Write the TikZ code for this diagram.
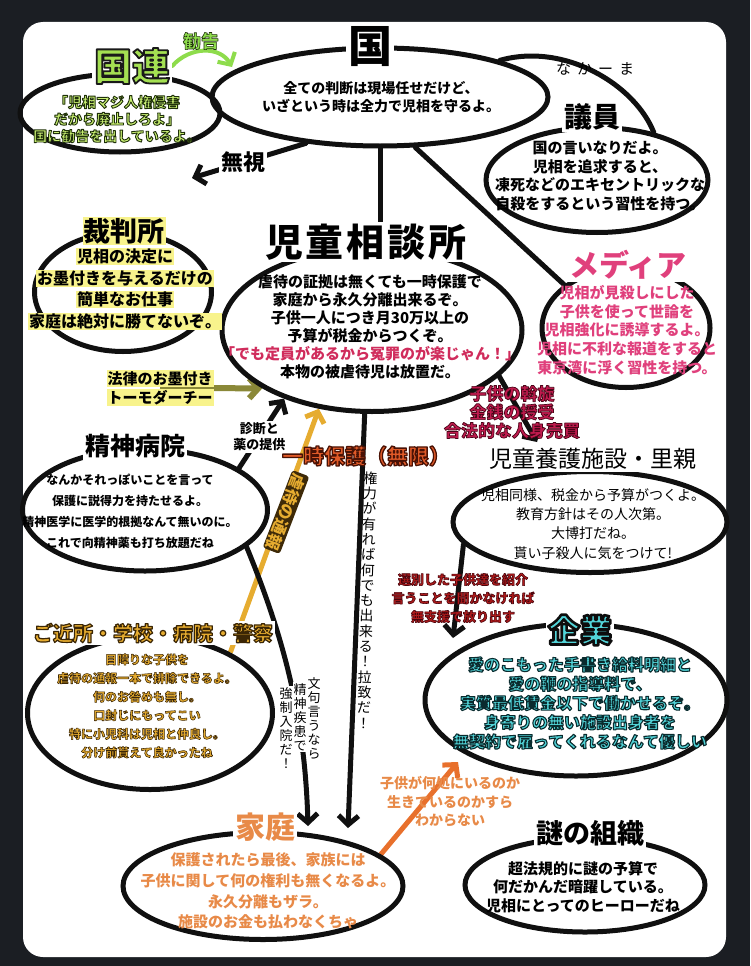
\documentclass[tikz,border=0pt]{standalone}
\usepackage{fontspec}
\setmainfont{Noto Sans CJK JP}
\usetikzlibrary{shapes.geometric,arrows.meta,calc}
\pgfdeclarelayer{back}
\pgfdeclarelayer{bg}
\pgfsetlayers{back,bg,main}
\definecolor{bgdark}{HTML}{1B1E23}
\definecolor{ink}{HTML}{101010}
\definecolor{kgreen}{HTML}{A4E052}
\definecolor{kgreenlt}{HTML}{C8EE72}
\definecolor{mpink}{HTML}{E0407C}
\definecolor{goldc}{HTML}{E6AC30}
\definecolor{golddk}{HTML}{3E2A08}
\definecolor{ored}{HTML}{E05A28}
\definecolor{crim}{HTML}{C01A4E}
\definecolor{dred}{HTML}{B01A1A}
\definecolor{tealc}{HTML}{52D4D8}
\definecolor{orng}{HTML}{E88A48}
\definecolor{orline}{HTML}{E8702C}
\definecolor{olivec}{HTML}{8A8838}
\definecolor{yglow}{HTML}{F8F38C}
\definecolor{redq}{HTML}{D02C5C}
\definecolor{gline}{HTML}{8EDC4C}
\newcommand\fs[2]{\fontsize{#1}{#2}\selectfont}
% outlined text: #1 stroke width, #2 stroke colour (r g b), #3 text
\newcommand\olt[3]{{\special{pdf:literal direct 1 j #1 w #2 RG 2 Tr}#3\special{pdf:literal direct 0 Tr}}}
\newcommand\hl[1]{{\setlength\fboxsep{1pt}\colorbox{yglow}{#1}}}
\tikzset{
  oval/.style={ellipse, draw=ink, line width=5pt, inner sep=0pt},
  ttl/.style={inner sep=2pt, fill=white},
  txt/.style={align=center, inner sep=0pt},
  conn/.style={draw=ink, line width=5pt, line cap=round},
  barb/.style={-{Straight Barb[length=9pt,width=20pt]}},
  lbl/.style={fill=white, inner sep=2pt, align=center},
}
\begin{document}
\begin{tikzpicture}[x=1pt,y=-1pt]
\useasboundingbox (0,0) rectangle (750,966);
\begin{pgfonlayer}{back}
\fill[bgdark] (0,0) rectangle (750,966);
\fill[white, rounded corners=20pt] (23,22) rectangle (726,957);
\end{pgfonlayer}

% ellipses
\node[oval, minimum width=336pt, minimum height=98pt] (kuniE) at (380,97) {};
\node[oval, minimum width=200pt, minimum height=78pt] (kokurenE) at (120,113) {};
\node[oval, minimum width=222pt, minimum height=105pt] (giinE) at (597,180) {};
\node[oval, minimum width=177pt, minimum height=119pt] (saibanE) at (123,292) {};
\node[oval, minimum width=300pt, minimum height=163pt] (jisouE) at (372,330) {};
\node[oval, minimum width=168pt, minimum height=119pt] (mediaE) at (626,328) {};
\node[oval, minimum width=245pt, minimum height=122pt] (seishinE) at (145,510) {};
\node[oval, minimum width=274pt, minimum height=101pt] (youkaE) at (590,522) {};
\node[oval, minimum width=245pt, minimum height=153pt] (kinjoE) at (150,713) {};
\node[oval, minimum width=302pt, minimum height=152pt] (kigyoE) at (576,700) {};
\node[oval, minimum width=280pt, minimum height=107pt] (kateiE) at (263,886) {};
\node[oval, minimum width=240pt, minimum height=94pt] (nazoE) at (585,885) {};

% 国
\node[ttl, font=\fs{44}{48}\bfseries] (kuniT) at (370,47) {国};
\node[txt, font=\fs{14}{18}\bfseries] (kuniX) at (381,97) {全ての判断は現場任せだけど、\\いざという時は全力で児相を守るよ。};
% 国連
\node[ttl, text=kgreen, font=\fs{38}{42}\bfseries] (kokurenT) at (132,66) {\olt{1.8}{0.1 0.1 0.1}{国連}};
\node[txt, text=kgreenlt, font=\fs{14}{17}\bfseries] (kokurenX) at (117,119) {\olt{0.9}{0.12 0.19 0.04}{「児相マジ人権侵害}\\\olt{0.9}{0.12 0.19 0.04}{だから廃止しろよ」}\\\olt{0.9}{0.12 0.19 0.04}{国に勧告を出しているよ。}};
\node[txt, text=gline, font=\fs{18}{20}\bfseries] (kankoku) at (201,41) {\olt{0.6}{0.12 0.19 0.04}{勧告}};
% 議員
\node[ttl, font=\fs{28}{30}\bfseries] (giinT) at (592,117) {議員};
\node[txt, font=\fs{15}{18.5}\bfseries] (giinX) at (600,176) {国の言いなりだよ。\\児相を追求すると、\\凍死などのエキセントリックな\\自殺をするという習性を持つ。};
\node[font=\fs{15}{16}] (nakama) at (595,69) {な\hspace{6pt}か\hspace{6pt}ー\hspace{6pt}ま};
% 裁判所
\node[ttl, fill=yglow, inner sep=1pt, font=\fs{27}{30}\bfseries] (saibanT) at (124,231) {裁判所};
\node[txt, font=\fs{16}{21.5}\bfseries] (saibanX) at (125,289) {\hl{児相の決定に}\\\hl{お墨付きを与えるだけの}\\\hl{簡単なお仕事}\\\hl{家庭は絶対に勝てないぞ。}};
\node[txt, font=\fs{15}{19}\bfseries] (houritsu) at (160,388) {\hl{法律のお墨付き}\\\hl{トーモダーチー}};
% 児童相談所
\node[ttl, font=\fs{38}{42}\bfseries] (jisouT) at (366,242) {児\hspace{3pt}童\hspace{3pt}相\hspace{3pt}談\hspace{3pt}所};
\node[txt, font=\fs{15}{18}\bfseries] (jisouX) at (370,327) {虐待の証拠は無くても一時保護で\\家庭から永久分離出来るぞ。\\子供一人につき月30万以上の\\予算が税金からつくぞ。\\\textcolor{redq}{「でも定員があるから冤罪のが楽じゃん！」}\\本物の被虐待児は放置だ。};
% メディア
\node[ttl, text=mpink, font=\fs{30}{32}\bfseries] (mediaT) at (628,265) {メディア};
\node[txt, text=mpink, font=\fs{15}{18.7}\bfseries] (mediaX) at (627,330) {児相が見殺しにした\\子供を使って世論を\\児相強化に誘導するよ。\\児相に不利な報道をすると\\東京湾に浮く習性を持つ。};
% 精神病院
\node[ttl, font=\fs{25}{28}\bfseries] (seishinT) at (135,446) {精神病院};
\node[txt, font=\fs{12}{21}\bfseries] (seishinX) at (130,511) {なんかそれっぽいことを言って\\保護に説得力を持たせるよ。\\精神医学に医学的根拠なんて無いのに。\\これで向精神薬も打ち放題だね};
% labels in the middle
\node[rotate=-111, fill=golddk, rounded corners=3pt, inner sep=1.5pt, text=goldc, font=\fs{16}{18}\bfseries] (gyakutai) at (286,512) {虐待の通報};
\node[text=ored, font=\fs{21}{24}\bfseries] (ichiji) at (366,456) {\olt{1.3}{0.29 0.07 0.02}{一時保護（無限）}};
\node[txt, font=\fs{14}{15.3}, rotate=-1.6] (kenryoku) at (367,600) {権\\力\\が\\有\\れ\\ば\\何\\で\\も\\出\\来\\る\\！\\拉\\致\\だ\\！};
\node[txt, anchor=north, fill=white, inner sep=1pt, font=\fs{13}{14}] (monku1) at (314,676) {文\\句\\言\\う\\な\\ら};
\node[txt, anchor=north, fill=white, inner sep=1pt, font=\fs{13}{14}] (monku2) at (300,682) {精\\神\\疾\\患\\で};
\node[txt, anchor=north, fill=white, inner sep=1pt, font=\fs{13}{14}] (monku3) at (286,686) {強\\制\\入\\院\\だ\\！};
% ご近所
\node[ttl, text=goldc, font=\fs{20}{22}\bfseries] (kinjoT) at (153,633) {\olt{1.2}{0.23 0.15 0.02}{ご近所・学校・病院・警察}};
\node[txt, text=goldc, font=\fs{12}{18.6}\bfseries] (kinjoX) at (147,706) {\olt{0.55}{0.23 0.15 0.02}{目障りな子供を}\\\olt{0.55}{0.23 0.15 0.02}{虐待の通報一本で排除できるよ。}\\\olt{0.55}{0.23 0.15 0.02}{何のお咎めも無し。}\\\olt{0.55}{0.23 0.15 0.02}{口封じにもってこい}\\\olt{0.55}{0.23 0.15 0.02}{特に小児科は児相と仲良し。}\\\olt{0.55}{0.23 0.15 0.02}{分け前貰えて良かったね}};
% 児童養護施設
\node[ttl, font=\fs{23}{26}] (youkaT) at (593,459) {児童養護施設・里親};
\node[txt, font=\fs{14}{19.3}] (youkaX) at (593,524) {児相同様、税金から予算がつくよ。\\教育方針はその人次第。\\大博打だね。\\貰い子殺人に気をつけて!};
\node[txt, text=crim, font=\fs{17}{18.5}\bfseries] (shien) at (512,412) {\olt{0.7}{0.29 0.02 0.09}{子供の斡旋}\\\olt{0.7}{0.29 0.02 0.09}{金銭の授受}\\\olt{0.7}{0.29 0.02 0.09}{合法的な人身売買}};
\node[txt, text=dred, font=\fs{13}{18.5}\bfseries] (senbetsu) at (463,598) {\olt{0.6}{0.29 0.02 0.05}{選別した子供達を紹介}\\\olt{0.6}{0.29 0.02 0.05}{言うことを聞かなければ}\\\olt{0.6}{0.29 0.02 0.05}{無支援で放り出す}};
% 企業
\node[ttl, text=tealc, font=\fs{32}{34}\bfseries] (kigyoT) at (580,630) {\olt{2.6}{0.05 0.05 0.05}{企業}};
\node[txt, text=tealc, font=\fs{16}{19.25}\bfseries] (kigyoX) at (580,703) {\olt{1.1}{0.04 0.17 0.18}{愛のこもった手書き給料明細と}\\\olt{1.1}{0.04 0.17 0.18}{愛の鞭の指導料で、}\\\olt{1.1}{0.04 0.17 0.18}{実質最低賃金以下で働かせるぞ。}\\\olt{1.1}{0.04 0.17 0.18}{身寄りの無い施設出身者を}\\\olt{1.1}{0.04 0.17 0.18}{無契約で雇ってくれるなんて優しい}};
% 家庭
\node[txt, text=orng, font=\fs{14}{18.5}\bfseries] (dokoL) at (450,802) {子供が何処にいるのか\\生きているのかすら\\わからない};
\node[ttl, text=orng, font=\fs{30}{32}\bfseries] (kateiT) at (265,827) {家庭};
\node[txt, text=orng, font=\fs{15}{20.6}\bfseries] (kateiX) at (268,891) {保護されたら最後、家族には\\子供に関して何の権利も無くなるよ。\\永久分離もザラ。\\施設のお金も払わなくちゃ};
% 謎の組織
\node[ttl, font=\fs{27}{30}\bfseries] (nazoT) at (590,833) {謎の組織};
\node[txt, font=\fs{15}{18.5}\bfseries] (nazoX) at (583,887) {超法規的に謎の予算で\\何だかんだ暗躍している。\\児相にとってのヒーローだね};

% free connector ends
\coordinate (kankokuEnd) at (232,67);
\coordinate (mushiEnd) at (192,178);
\coordinate (kenEnd) at (348,828);
\coordinate (monkuEnd) at (308,826);
\coordinate (shienEnd) at (537,442);
\coordinate (senEnd) at (453,638);
\coordinate (dokoEnd) at (458,762);

\begin{pgfonlayer}{bg}
\draw[conn] (kuniE.south) -- (kuniE.south |- jisouT.north);
\draw[conn] (kuniE.-55) -- (mediaE.145);
\draw[conn] (kuniE.17) .. controls (565,42) and (635,85) .. (giinE.40);
\draw[gline, line width=4pt, line cap=round, barb] (kokurenT.east) .. controls (190,46) and (220,46) .. (kankokuEnd);
\draw[conn, barb] (kuniE.-148) -- node[lbl, font=\fs{22}{24}\bfseries, pos=0.55] (mushi) {無視} (mushiEnd);
\draw[olivec, line width=6pt, barb] (houritsu.center) -- (jisouE.-152);
\draw[conn, barb] (seishinE.24) -- node[lbl, font=\fs{13}{16}\bfseries, pos=0.45] (shindan) {診断と\\薬の提供} (jisouE.-142);
\draw[goldc, line width=5pt, barb] (kinjoE.37) -- (jisouE.-124);
\draw[conn, barb] (jisouE.-95) -- (kenEnd);
\draw[conn, barb] (seishinE.-20) .. controls (285,640) and (305,720) .. (monkuEnd);
\draw[conn, barb] (jisouE.-20) -- (shienEnd);
\draw[conn, barb] (youkaE.-170) -- (senEnd);
\draw[orline, line width=5pt, barb] (kateiE.15) -- (dokoEnd);
\end{pgfonlayer}
\end{tikzpicture}
\end{document}
